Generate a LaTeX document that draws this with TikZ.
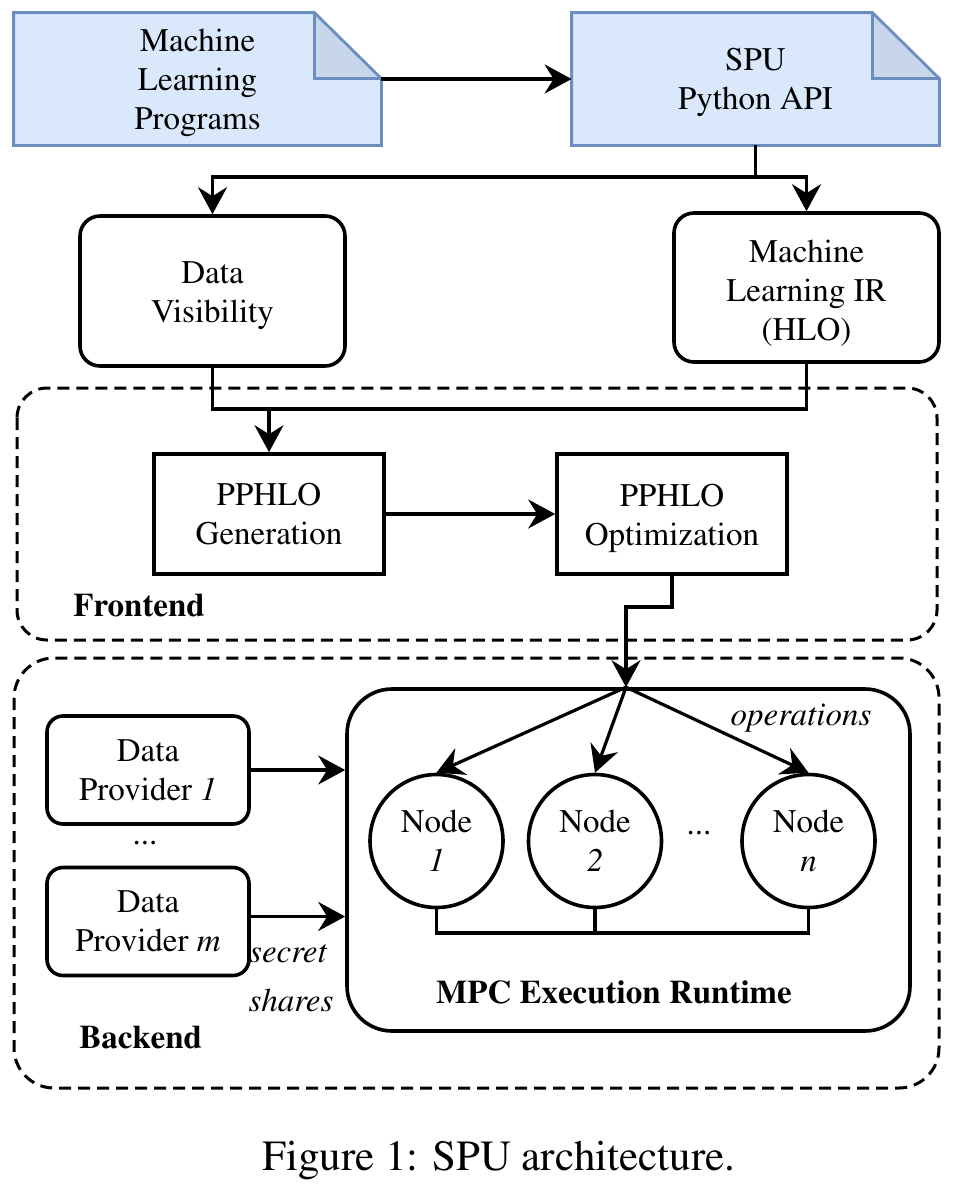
\documentclass[tikz,border=0pt]{standalone}
\usepackage[T1]{fontenc}
\usepackage{times}
\usetikzlibrary{arrows.meta,calc,backgrounds}
\definecolor{docfill}{HTML}{DAE8FC}
\definecolor{docline}{HTML}{6C8EBF}
\definecolor{foldfill}{HTML}{C8D6EC}
\begin{document}
\begin{tikzpicture}[x=0.5pt,y=-0.5pt,
  every node/.style={font=\fontsize{16.5}{19.5}\selectfont, align=center, inner sep=0pt},
  conn/.style={line width=1.6pt, black},
  arr/.style={conn, -{Stealth[length=13.5pt,width=14.5pt,inset=4.5pt]}},
  docbox/.style={draw=none, minimum width=183.5pt, minimum height=66pt},
  rbox/.style={draw, line width=1.8pt, rounded corners=10pt, minimum width=132.5pt},
  sbox/.style={draw, line width=1.8pt, minimum width=115pt, minimum height=60pt},
  pbox/.style={draw, line width=1.8pt, rounded corners=8pt, minimum width=101pt, minimum height=54pt},
  cnode/.style={draw, circle, line width=1.8pt, minimum size=66.5pt},
  group/.style={draw, line width=1.5pt, dash pattern=on 6pt off 3.5pt},
  lbl/.style={font=\fontsize{16.5}{19.5}\selectfont\bfseries},
  itl/.style={font=\fontsize{16.5}{19.5}\selectfont\itshape}
]
\useasboundingbox (0,0) rectangle (954,1194);

% group boxes
\draw[group, rounded corners=15pt] (17,388) rectangle (937,640);
\draw[group, rounded corners=20pt] (14,658) rectangle (939,1088);

% documents
\node[docbox] (doc1) at (197.5,79) {};
\node[docbox] (doc2) at (755.5,79) {};
\begin{scope}[on background layer]
\foreach \d in {doc1,doc2}{
  \fill[docfill] (\d.north west) -- ([xshift=-33.5pt]\d.north east) -- ([yshift=-33pt]\d.north east) -- (\d.south east) -- (\d.south west) -- cycle;
  \fill[foldfill] ([xshift=-33.5pt]\d.north east) -- ([xshift=-33.5pt,yshift=-33pt]\d.north east) -- ([yshift=-33pt]\d.north east) -- cycle;
  \draw[docline, line width=1.4pt, line join=miter] (\d.north west) -- ([xshift=-33.5pt]\d.north east) -- ([yshift=-33pt]\d.north east) -- (\d.south east) -- (\d.south west) -- cycle;
  \draw[docline, line width=1.4pt] ([xshift=-33.5pt]\d.north east) -- ([xshift=-33.5pt,yshift=-33pt]\d.north east) -- ([yshift=-33pt]\d.north east);
}
\end{scope}
\node (doc1t) at ([yshift=-2pt]doc1.center) {Machine\\Learning\\Programs};
\node (doc2t) at ([yshift=-1.5pt]doc2.center) {SPU\\Python API};

% upper boxes
\node[rbox, minimum height=75pt] (dv) at (212.5,291) {};
\node (dvt) at ([yshift=-2.5pt]dv.center) {Data\\Visibility};
\node[rbox, minimum height=74.5pt] (mlir) at (806.5,287.5) {};
\node (mlirt) at ([yshift=-2.75pt]mlir.center) {Machine\\Learning IR\\(HLO)};

% frontend boxes
\node[sbox] (gen) at (269,514) {PPHLO\\Generation};
\node[sbox] (opt) at (672,514) {};
\node (optt) at ([yshift=-2pt]opt.center) {PPHLO\\Optimization};
\node[lbl, anchor=west] (fe) at (73,605) {Frontend};

% backend
\node[draw, line width=1.8pt, rounded corners=22.5pt, minimum width=281.5pt, minimum height=171pt] (mpc) at (628.5,860) {};
\node[lbl] (mpcl) at (614,992) {MPC Execution Runtime};
\node[cnode] (n1) at (436.5,841) {Node\\\textit{1}};
\node[cnode] (n2) at (595,841) {Node\\\textit{2}};
\node[cnode] (nn) at (808.5,841) {Node\\\textit{n}};
\node (dotsn) at (699,833) {...};
\node[itl] (ops) at (801,718) {operations};
\node[pbox] (dp1) at (148,770) {Data\\Provider \textit{1}};
\node[pbox] (dpm) at (148,921.5) {Data\\Provider \textit{m}};
\node (dotsp) at (145,843) {...};
\node[itl] (sec) at (288,954) {secret};
\node[itl] (sha) at (291,1000) {shares};
\node[lbl, anchor=west] (be) at (79,1037) {Backend};

% caption
\node[font=\fontsize{21.5}{26}\selectfont, anchor=base] (cap) at (499,1170) {Figure 1: SPU architecture.};

% connectors
\draw[arr] (doc1.east) -- (doc2.west);
\coordinate (s) at (755.5,177);
\draw[conn] (doc2.south) -- (s);
\draw[arr] (s) -| (dv.north);
\draw[arr] (s) -| (mlir.north);
\coordinate (m) at (269,409);
\draw[conn] (dv.south) |- (m);
\draw[conn] (mlir.south) |- (m);
\draw[arr] (m) -- (gen.north);
\draw[arr] (gen.east) -- (opt.west);
\coordinate (j) at (626,607);
\coordinate (t) at (j |- mpc.north);
\draw[arr] (opt.south) |- (j) -- (t);
\draw[arr] (t) -- (n1.north);
\draw[arr] (t) -- (n2.north);
\draw[arr] (t) -- (nn.north);
\coordinate (bus) at (0,933);
\draw[conn] (n1.south) -- (n1.south |- bus) -- (nn.south |- bus) -- (nn.south);
\draw[conn] (n2.south) -- (n2.south |- bus);
\draw[arr] (dp1.east) -- (dp1.east -| mpc.west);
\draw[arr] ([yshift=2.5pt]dpm.east) -- ([yshift=2.5pt]dpm.east -| mpc.west);
\end{tikzpicture}
\end{document}
